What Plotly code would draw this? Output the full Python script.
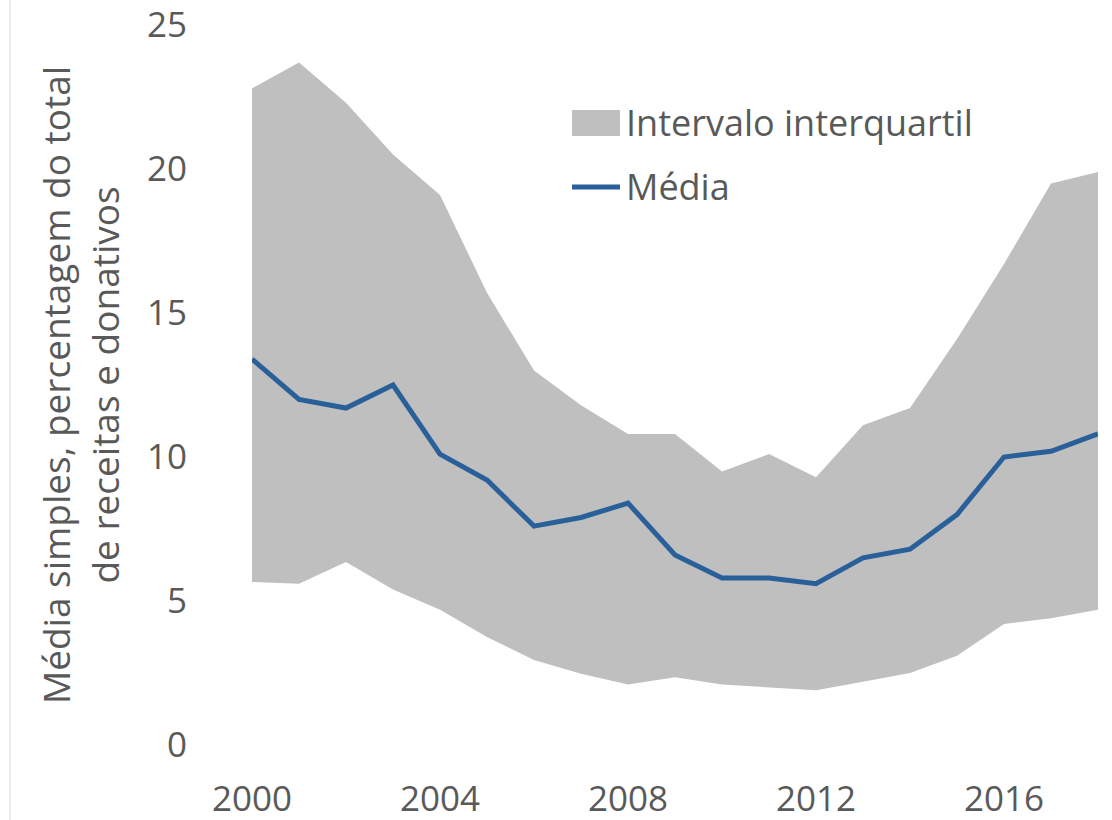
import plotly.graph_objects as go

years = list(range(2000, 2019))
q3 = [22.8, 23.7, 22.3, 20.5, 19.1, 15.7, 13.0, 11.8, 10.8, 10.8, 9.5, 10.1, 9.3, 11.1, 11.7, 14.1, 16.7, 19.5, 19.9]
media = [13.4, 12.0, 11.7, 12.5, 10.1, 9.2, 7.6, 7.9, 8.4, 6.6, 5.8, 5.8, 5.6, 6.5, 6.8, 8.0, 10.0, 10.2, 10.8]
q1 = [5.66, 5.6, 6.35, 5.4, 4.7, 3.75, 2.95, 2.47, 2.1, 2.35, 2.1, 2.0, 1.9, 2.2, 2.5, 3.1, 4.2, 4.4, 4.7]
x_ticks = [2000, 2004, 2008, 2012, 2016]
y_ticks = [0, 5, 10, 15, 20, 25]
legend_names = ["Intervalo interquartil", "Média"]

grey = "#BFBFBF"
blue = "#2A609A"
txt = "#595959"
font = "Open Sans"

fig = go.Figure()
fig.add_trace(go.Scatter(x=years, y=q1, mode="lines", line=dict(width=0, color=grey),
                         showlegend=False, hoverinfo="skip"))
fig.add_trace(go.Scatter(x=years, y=q3, mode="lines", line=dict(width=0, color=grey),
                         fill="tonexty", fillcolor=grey, name=legend_names[0], showlegend=False))
fig.add_trace(go.Scatter(x=years, y=media, mode="lines", line=dict(width=5, color=blue),
                         name=legend_names[1], showlegend=False))

# legend drawn by hand (paper coords) so the symbols get Excel-like sizes
def px_x(p):
    return (p - 252) / 846

def px_y(p):
    return (745 - p) / 720

shapes = [
    dict(type="rect", xref="paper", yref="paper", x0=px_x(572), x1=px_x(620),
         y0=px_y(136), y1=px_y(110), fillcolor=grey, line=dict(width=0)),
    dict(type="line", xref="paper", yref="paper", x0=px_x(572), x1=px_x(620),
         y0=px_y(187), y1=px_y(187), line=dict(color=blue, width=5)),
    dict(type="line", xref="paper", yref="paper", x0=px_x(10), x1=px_x(10),
         y0=px_y(830), y1=px_y(-10), line=dict(color="#D9D9D9", width=1)),
]
annotations = [
    dict(text=legend_names[0], xref="paper", yref="paper", x=px_x(624), y=px_y(123),
         xanchor="left", yanchor="middle", showarrow=False, font=dict(size=36, color=txt)),
    dict(text=legend_names[1], xref="paper", yref="paper", x=px_x(624), y=px_y(187),
         xanchor="left", yanchor="middle", showarrow=False, font=dict(size=36, color=txt)),
]

fig.update_layout(
    width=1112, height=820,
    margin=dict(l=252, r=14, t=25, b=75),
    plot_bgcolor="white", paper_bgcolor="white",
    font=dict(family=font, size=35, color=txt),
    showlegend=False,
    xaxis=dict(range=[2000, 2018], tickvals=x_ticks, showgrid=False, zeroline=False,
               showline=False, automargin=False, ticklabelstandoff=30,
               tickfont=dict(size=35, color=txt)),
    yaxis=dict(range=[0, 25], tickvals=y_ticks, showgrid=False, zeroline=False,
               showline=False, automargin=False, ticklabelstandoff=64,
               tickfont=dict(size=35, color=txt),
               title=dict(text="Média simples, percentagem do total<br>de receitas e donativos",
                          standoff=16, font=dict(size=37, color=txt))),
    shapes=shapes,
    annotations=annotations,
)

fig.write_html("out.html", config={"displayModeBar": False},
               post_script="document.body.style.margin='0';")
